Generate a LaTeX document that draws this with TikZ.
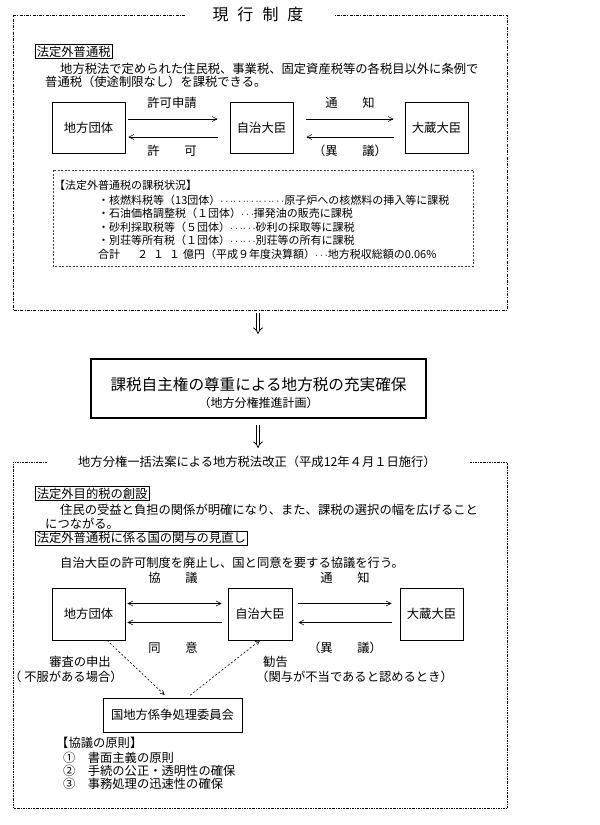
\documentclass[tikz,border=0pt]{standalone}
\usepackage{fontspec}
\setmainfont{Noto Sans CJK JP}
\usetikzlibrary{arrows.meta}
\newcommand\fsN{\fontsize{12.3pt}{14pt}\selectfont}
\newcommand\fsS{\fontsize{11pt}{13pt}\selectfont}
\newcommand\fsBig{\fontsize{15.6pt}{18pt}\selectfont}
\newcommand\fsSub{\fontsize{12pt}{14pt}\selectfont}
\newcommand\fsTitle{\fontsize{16pt}{19pt}\selectfont}
\newcommand\dts{\ensuremath{\cdots}}
\begin{document}
\begin{tikzpicture}[x=1pt,y=-1pt,
  txt/.style={anchor=west,inner sep=0pt,font=\fsN},
  stxt/.style={anchor=west,inner sep=0pt,font=\fsS},
  lbl/.style={inner sep=0pt,font=\fsN},
  head/.style={draw,line width=0.6pt,inner sep=1.5pt,anchor=west,font=\fsN},
  ent/.style={draw,line width=0.6pt,minimum height=51pt,font=\fsN,inner sep=0pt},
  arr/.style={line width=0.6pt,-{Straight Barb[length=5pt,width=5pt]}},
  biarr/.style={line width=0.6pt,{Straight Barb[length=5pt,width=5pt]}-{Straight Barb[length=5pt,width=5pt]}},
  dotarr/.style={line width=0.6pt,dash pattern=on 2pt off 2pt,-{Straight Barb[length=4pt,width=4pt]}},
  frameA/.style={line width=0.9pt,dash pattern=on 3pt off 1.3pt on 0.9pt off 1.3pt},
  frameB/.style={line width=0.7pt,dash pattern=on 2pt off 1pt on 0.7pt off 1pt},
  innerbox/.style={line width=0.5pt,black!75,dash pattern=on 2pt off 1.5pt},
  bigbox/.style={draw,line width=1.1pt,inner sep=0pt},
  dbl/.style={double,double distance=2.6pt,line width=0.8pt,-{Implies}}
]
\useasboundingbox (0,0) rectangle (600,825);

% ---------- top frame ----------
\draw[frameA] (185,15) -- (13,15) -- (13,310) -- (507,310) -- (507,15) -- (335,15);
\node[inner sep=0pt,font=\fsTitle] (t1) at (258,14) {現\hspace{9pt}行\hspace{9pt}制\hspace{9pt}度};

\node[head] (h1) at (35,51.5) {法定外普通税};
\node[txt] (p1) at (60,68.5) {地方税法で定められた住民税、事業税、固定資産税等の各税目以外に条例で};
\node[txt] (p2) at (45,82) {普通税（使途制限なし）を課税できる。};

\node[ent,minimum width=73pt] (A1) at (88.5,127.5) {地方団体};
\node[ent,minimum width=63pt] (B1) at (261.5,127.5) {自治大臣};
\node[ent,minimum width=63pt] (C1) at (436.5,127.5) {大蔵大臣};

\draw[arr,shorten <=3pt,shorten >=12pt] ([yshift=8.5pt]A1.east) -- ([yshift=8.5pt]B1.west);
\draw[arr,shorten <=12pt,shorten >=3pt] ([yshift=-9.5pt]B1.west) -- ([yshift=-9.5pt]A1.east);
\draw[arr,shorten <=13pt,shorten >=11pt] ([yshift=8.5pt]B1.east) -- ([yshift=8.5pt]C1.west);
\draw[arr,shorten <=11pt,shorten >=13pt] ([yshift=-9.5pt]C1.west) -- ([yshift=-9.5pt]B1.east);

\node[lbl] (l1) at (172,103) {許可申請};
\node[lbl] (l2) at (172,151) {許　　可};
\node[lbl] (l3) at (350,103) {通　　知};
\node[lbl] (l4) at (350,151) {（異　　議）};

\draw[innerbox] (53,170) rectangle (473,266);
\node[stxt] (s0) at (54,185) {【法定外普通税の課税状況】};
\node[stxt] (s1) at (98,200) {・核燃料税等（13団体）\dts\dts\dts\dts\dts 原子炉への核燃料の挿入等に課税};
\node[stxt] (s2) at (98,213.5) {・石油価格調整税（１団体）\dts 揮発油の販売に課税};
\node[stxt] (s3) at (98,227) {・砂利採取税等（５団体）\dts\dts 砂利の採取等に課税};
\node[stxt] (s4) at (98,240.5) {・別荘等所有税（１団体）\dts\dts 別荘等の所有に課税};
\node[stxt] (s6) at (98,254) {合計\hspace{17pt}２\hspace{5pt}１\hspace{5pt}１\hspace{3pt}億円（平成９年度決算額）\dts 地方税収総額の0.06\%};

% ---------- transition ----------
\coordinate (d1s) at (258,313);
\coordinate (d1e) at (258,334);
\draw[dbl] (d1s) -- (d1e);

\node[bigbox,minimum width=335pt,minimum height=59pt] (M) at (258.5,388.5) {};
\node[inner sep=0pt,font=\fsBig] (Mt) at (258.5,385) {課税自主権の尊重による地方税の充実確保};
\node[inner sep=0pt,font=\fsSub] (Ms) at (258.5,403) {（地方分権推進計画）};

\coordinate (d2s) at (258,425);
\coordinate (d2e) at (258,448);
\draw[dbl] (d2s) -- (d2e);

% ---------- bottom frame ----------
\draw[frameB] (47,462) -- (13,462) -- (13,808) -- (507,808) -- (507,462) -- (470,462);
\node[lbl] (t2) at (257,462) {地方分権一括法案による地方税法改正（平成12年４月１日施行）};

\node[head] (h2) at (35,493.5) {法定外目的税の創設};
\node[txt] (q1) at (60,510) {住民の受益と負担の関係が明確になり、また、課税の選択の幅を広げること};
\node[txt] (q2) at (45,523.5) {につながる。};
\node[head] (h3) at (35,538) {法定外普通税に係る国の関与の見直し};
\node[txt] (q3) at (60,563) {自治大臣の許可制度を廃止し、国と同意を要する協議を行う。};

\node[ent,minimum width=73pt,minimum height=52pt] (A2) at (88.5,614) {地方団体};
\node[ent,minimum width=64pt,minimum height=52pt] (B2) at (260,614) {自治大臣};
\node[ent,minimum width=63pt,minimum height=52pt] (C2) at (431.5,614) {大蔵大臣};

\draw[biarr,shorten <=2pt,shorten >=6pt] ([yshift=10.5pt]A2.east) -- ([yshift=10.5pt]B2.west);
\draw[arr,shorten <=6pt,shorten >=2pt] ([yshift=-8.5pt]B2.west) -- ([yshift=-8.5pt]A2.east);
\draw[arr,shorten <=6pt,shorten >=8pt] ([yshift=10.5pt]B2.east) -- ([yshift=10.5pt]C2.west);
\draw[arr,shorten <=8pt,shorten >=6pt] ([yshift=-8.5pt]C2.west) -- ([yshift=-8.5pt]B2.east);

\node[lbl] (m1) at (173,578) {協　　議};
\node[lbl] (m2) at (173,648) {同　　意};
\node[lbl] (m3) at (345,578) {通　　知};
\node[lbl] (m4) at (345,648) {（異　　議）};

\node[ent,minimum width=139pt,minimum height=34pt] (D) at (172.5,715) {国地方係争処理委員会};

\draw[dotarr,shorten >=4pt] ([xshift=18.5pt]A2.south) -- ([xshift=-5pt]D.north);
\draw[dotarr,shorten <=4pt] ([xshift=14.5pt]D.north) -- (B2.south);

\node[lbl] (n1) at (80,662) {審査の申出};
\node[txt] (n2) at (9,677) {（ 不服がある場合）};
\node[txt] (n3) at (263,662) {勧告};
\node[txt] (n4) at (256,677) {（関与が不当であると認めるとき）};

\node[txt] (r0) at (56,743) {【協議の原則】};
\node[txt] (r1) at (63,758) {①　書面主義の原則};
\node[txt] (r2) at (63,771) {②　手続の公正・透明性の確保};
\node[txt] (r3) at (63,784) {③　事務処理の迅速性の確保};
\end{tikzpicture}
\end{document}
